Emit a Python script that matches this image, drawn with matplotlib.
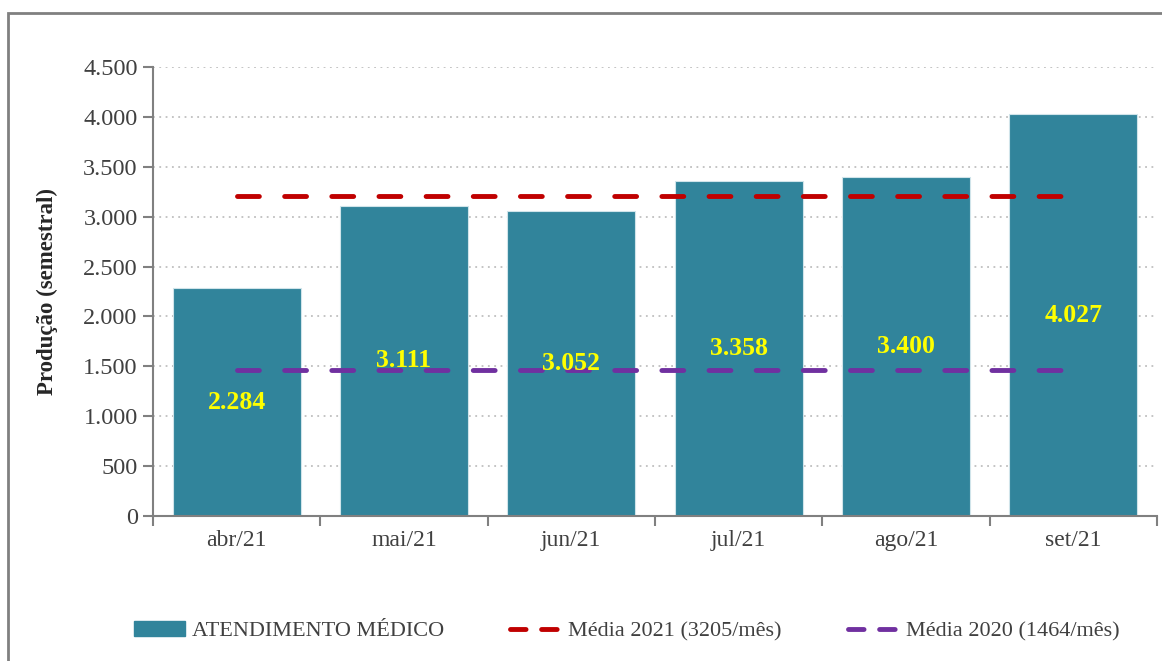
import matplotlib.pyplot as plt
from matplotlib.patches import Rectangle
from matplotlib.lines import Line2D

# data
meses = ["abr/21", "mai/21", "jun/21", "jul/21", "ago/21", "set/21"]
atendimentos = [2284, 3111, 3052, 3358, 3400, 4027]
media_2021 = 3205
media_2020 = 1464
yticks = [0, 500, 1000, 1500, 2000, 2500, 3000, 3500, 4000, 4500]

plt.rcParams['font.family'] = ['Liberation Serif', 'DejaVu Serif']

W, H = 1162, 661
fig = plt.figure(figsize=(W / 100, H / 100), dpi=100)

# gray border of the chart area (cut at right/bottom like the reference)
fig.patches.append(Rectangle((8 / W, -0.05), 1.1, 1 - 13 / H + 0.05,
                             transform=fig.transFigure, fill=False,
                             edgecolor='#808080', linewidth=2))

ax = fig.add_axes([153 / W, (H - 516) / H, (1157 - 153) / W, (516 - 67) / H])

x = list(range(len(meses)))
bar_color = '#31849B'
ax.bar(x, atendimentos, width=0.765, color=bar_color, edgecolor='#d0e4ea',
       linewidth=0.8, zorder=2, label='ATENDIMENTO MÉDICO')

for xi, v in zip(x, atendimentos):
    ax.text(xi, v / 2, f"{v:,}".replace(",", "."), ha='center', va='center',
            color='#FFFF00', fontsize=18.5, fontweight='bold', zorder=4)

ax.plot([x[0], x[-1] - 0.04], [media_2021, media_2021], color='#C00000', lw=3.5,
        dashes=(4.5, 5.2), dash_capstyle='round', zorder=3,
        label=f'Média 2021 ({media_2021}/mês)')
ax.plot([x[0], x[-1] - 0.04], [media_2020, media_2020], color='#7030A0', lw=3.5,
        dashes=(4.5, 5.2), dash_capstyle='round', zorder=3,
        label=f'Média 2020 ({media_2020}/mês)')

ax.set_xlim(-0.5, len(meses) - 0.5)
ax.set_ylim(0, 4500)
ax.set_yticks(yticks)
ax.set_yticklabels([f"{t:,}".replace(",", ".") for t in yticks], fontsize=17.5,
                   color='#404040')
ax.set_xticks(x)
ax.set_xticklabels(meses, fontsize=17, color='#404040')
ax.tick_params(axis='x', length=0, pad=10)
ax.set_xticks([i - 0.5 for i in range(len(meses) + 1)], minor=True)
ax.tick_params(axis='x', which='minor', length=7, color='#808080', width=1.5)
ax.tick_params(axis='y', length=7, color='#808080', width=1.5, pad=4)

ax.yaxis.grid(True, linestyle=(0, (1, 2.5)), color='#BFBFBF', lw=1.3, zorder=0)
ax.set_axisbelow(True)
for s in ['top', 'right']:
    ax.spines[s].set_visible(False)
for s in ['left', 'bottom']:
    ax.spines[s].set_color('#808080')
    ax.spines[s].set_linewidth(1.5)

ax.set_ylabel('Produção (semestral)', fontsize=16.5, fontweight='bold',
              labelpad=18, color='#262626')

handles = [Rectangle((0, 0), 1, 1, color=bar_color),
           Line2D([], [], color='#C00000', lw=3.5, dashes=(3.2, 3.2),
                  dash_capstyle='round'),
           Line2D([], [], color='#7030A0', lw=3.5, dashes=(3.2, 3.2),
                  dash_capstyle='round')]
labels = ['ATENDIMENTO MÉDICO', f'Média 2021 ({media_2021}/mês)',
          f'Média 2020 ({media_2020}/mês)']
fig.legend(handles, labels, loc='center left',
           bbox_to_anchor=(116 / W, (H - 631) / H),
           ncol=3, frameon=False, fontsize=16, handlelength=2.3,
           handleheight=0.65, handletextpad=0.3, columnspacing=3.0,
           borderpad=0.3, labelcolor='#404040')

fig.savefig('out.png', dpi=100)
